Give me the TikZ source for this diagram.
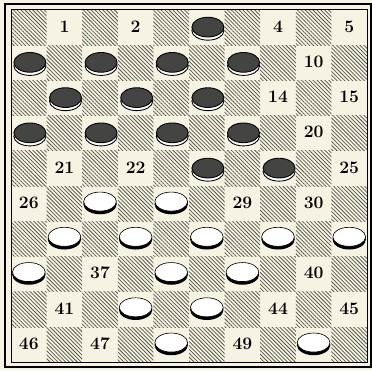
\documentclass[tikz,border=0pt]{standalone}
\usetikzlibrary{patterns.meta}
\definecolor{paper}{RGB}{246,243,226}
\definecolor{hatch}{RGB}{85,85,75}
\definecolor{darkman}{RGB}{68,68,66}

\begin{document}
\begin{tikzpicture}[x=1cm,y=0.99cm,
    hatched/.style={pattern={Lines[angle=-45,distance=2.2pt,line width=0.6pt]},pattern color=hatch},
    num/.style={font=\fontsize{14}{14}\selectfont\bfseries,inner sep=0pt},
    rim/.style={draw,line width=0.7pt,fill=white},
    man/.style={draw,line width=0.7pt}]
    \useasboundingbox[fill=paper] (-0.31,-0.23) rectangle (10.14,10.28);
    % dark squares
    \foreach \r in {1,...,10}
      \foreach \c in {1,...,10} {
        \pgfmathtruncatemacro\odd{mod(\r+\c,2)}
        \ifnum\odd=0
          \path[hatched] (\c-1,10-\r) rectangle (\c,11-\r);
        \fi
      }
    % frame
    \draw[line width=0.8pt] (0,0) rectangle (10,10);
    \draw[line width=1.7pt] (-0.17,-0.13) rectangle (10.11,10.17);
    % empty squares with their numbers
    \foreach \n in {1,2,4,5,10,14,15,20,21,22,25,26,29,30,37,40,41,44,45,46,47,49} {
      \pgfmathtruncatemacro\r{ceil(\n/5)}
      \pgfmathtruncatemacro\k{\n-5*(\r-1)}
      \pgfmathtruncatemacro\c{mod(\r,2)==1 ? 2*\k : 2*\k-1}
      \node[num] (n\n) at (\c-0.5,10.53-\r) {\n};
    }
    % black men
    \foreach \n in {3,6,7,8,9,11,12,13,16,17,18,19,23,24} {
      \pgfmathtruncatemacro\r{ceil(\n/5)}
      \pgfmathtruncatemacro\k{\n-5*(\r-1)}
      \pgfmathtruncatemacro\c{mod(\r,2)==1 ? 2*\k : 2*\k-1}
      \path[rim] (\c-0.47,10.41-\r) ellipse [x radius=0.45,y radius=0.27];
      \path[man,fill=darkman] (\c-0.47,10.51-\r) ellipse [x radius=0.45,y radius=0.28];
    }
    % white men
    \foreach \n in {27,28,31,32,33,34,35,36,38,39,42,43,48,50} {
      \pgfmathtruncatemacro\r{ceil(\n/5)}
      \pgfmathtruncatemacro\k{\n-5*(\r-1)}
      \pgfmathtruncatemacro\c{mod(\r,2)==1 ? 2*\k : 2*\k-1}
      \fill (\c-0.5,10.49-\r) ellipse [x radius=0.47,y radius=0.29];
      \path[man,fill=white,line width=0.5pt] (\c-0.5,10.56-\r) ellipse [x radius=0.46,y radius=0.27];
    }
  \end{tikzpicture}
\end{document}
